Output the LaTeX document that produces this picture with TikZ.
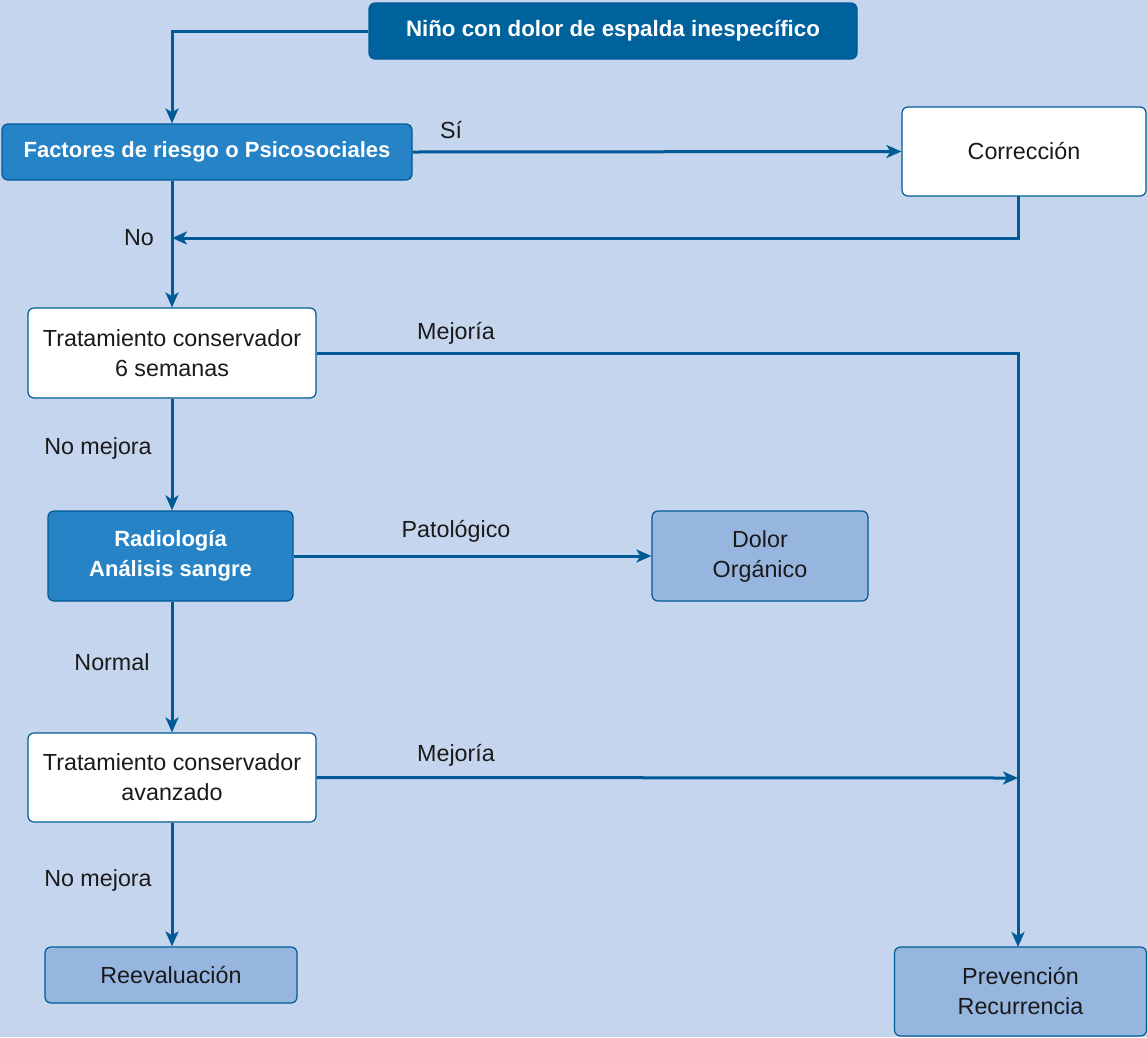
\documentclass[tikz,border=0pt]{standalone}
\usepackage{fontspec}
\setmainfont{Liberation Sans}
\usetikzlibrary{arrows.meta}
\definecolor{bgc}{RGB}{197,213,238}
\definecolor{darkb}{RGB}{0,98,157}
\definecolor{midb}{RGB}{38,131,198}
\definecolor{lightb}{RGB}{150,182,224}
\definecolor{linec}{RGB}{0,90,150}
\definecolor{txt}{RGB}{26,26,26}
\tikzset{
  box/.style={draw=linec, line width=1.2pt, rounded corners=6pt, inner sep=0pt, align=center, text=txt, font=\fontsize{23.3}{30}\selectfont},
  whitebox/.style={box, fill=white},
  lightbox/.style={box, fill=lightb},
  midbox/.style={box, fill=midb, text=white, font=\bfseries\fontsize{22}{30}\selectfont},
  darkbox/.style={box, fill=darkb, text=white, font=\bfseries\fontsize{22.3}{30}\selectfont},
  conn/.style={draw=linec, line width=3pt},
  arr/.style={conn, -{Stealth[length=15pt,width=13pt,inset=4pt]}},
  lbl/.style={text=txt, inner sep=0pt, font=\fontsize{23.3}{26}\selectfont}
}
\begin{document}
\begin{tikzpicture}[x=1pt,y=-1pt]
\fill[bgc] (0,0) rectangle (1147,1037);
\useasboundingbox (0,0) rectangle (1147,1037);

\node[darkbox, minimum width=488pt, minimum height=56pt] (top) at (613,31) {Niño con dolor de espalda inespecífico};
\node[midbox, minimum width=410pt, minimum height=56pt] (fact) at (207,152) {Factores de riesgo o Psicosociales};
\node[whitebox, minimum width=244pt, minimum height=89pt] (corr) at (1024,151.5) {Corrección};
\node[whitebox, minimum width=288pt, minimum height=90pt] (trat1) at (172,353) {Tratamiento conservador\\6 semanas};
\node[midbox, minimum width=245pt, minimum height=90pt] (radio) at (170.5,556) {Radiología\\Análisis sangre};
\node[lightbox, minimum width=216pt, minimum height=90pt] (dolor) at (760,556) {Dolor\\Orgánico};
\node[whitebox, minimum width=288pt, minimum height=89pt] (trat2) at (172,777.5) {Tratamiento conservador\\avanzado};
\node[lightbox, minimum width=252pt, minimum height=56pt] (reev) at (171,975) {Reevaluación};
\node[lightbox, minimum width=252pt, minimum height=89pt] (prev) at (1020.5,991.5) {Prevención\\Recurrencia};

\coordinate (corrout) at (1018,196);
\coordinate (nojoin) at (172,238);
\coordinate (prevtop) at (1018,947);
\coordinate (join2) at (1018,778);

\draw[arr] (top.west) -| (fact.north -| trat1.north);
\draw[arr] (fact.east) -- (corr.west);
\draw[arr] (corrout) |- (nojoin);
\draw[arr] (fact.south -| trat1.north) -- (trat1.north);
\draw[arr] (trat1.east) -| (prevtop);
\draw[arr] (trat1.south) -- (trat1.south |- radio.north);
\draw[arr] (radio.east) -- (dolor.west);
\draw[arr] (trat1.south |- radio.south) -- (trat2.north);
\draw[arr] (trat2.east) -- (join2);
\draw[arr] (trat2.south) -- (trat2.south |- reev.north);

\node[lbl] (lsi) at (451,130) {Sí};
\node[lbl] (lno) at (139,238) {No};
\node[lbl] (lmej1) at (456,333) {Mejoría};
\node[lbl] (lnm1) at (98,448) {No mejora};
\node[lbl] (lpat) at (456,531) {Patológico};
\node[lbl] (lnor) at (112,662) {Normal};
\node[lbl] (lmej2) at (456,755) {Mejoría};
\node[lbl] (lnm2) at (98,880) {No mejora};
\end{tikzpicture}
\end{document}
